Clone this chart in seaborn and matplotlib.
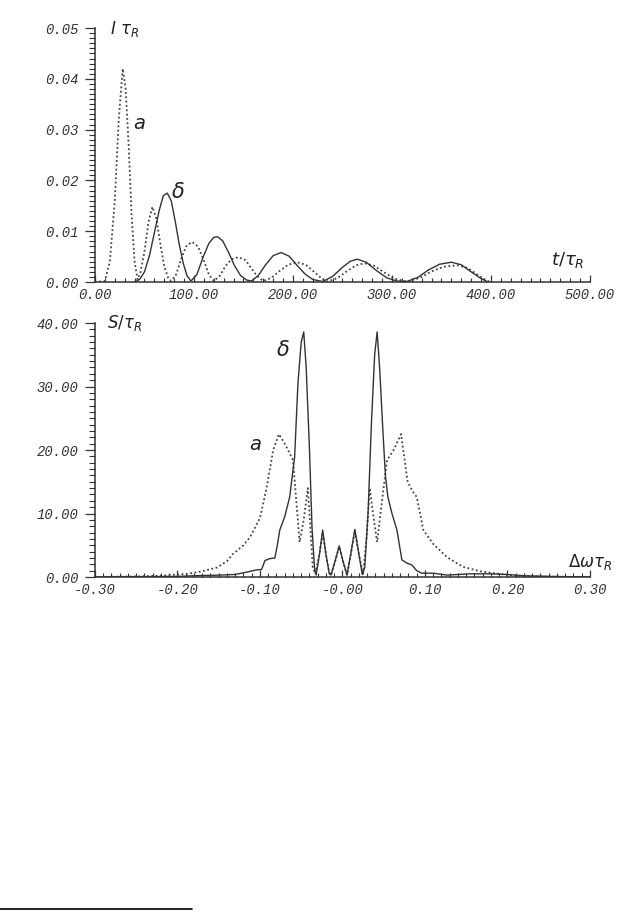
import numpy as np
import pandas as pd
import seaborn as sns
import matplotlib.pyplot as plt
from matplotlib.lines import Line2D
from matplotlib.ticker import MultipleLocator, FixedLocator

# top panel: intensity vs time
a_t = [0, 10, 15, 20, 24, 28, 31, 34, 37, 40, 43,
       46, 50, 54, 58, 62, 66, 70, 74, 77,
       82, 87, 92, 98, 104, 110, 115, 120,
       126, 132, 138, 145, 152, 158, 164, 170,
       178, 186, 195, 204, 213, 222, 229, 235,
       245, 255, 264, 272, 282, 292, 302, 315,
       328, 340, 352, 366, 376, 386, 393, 398]
a_I = [0, 0.0002, 0.004, 0.016, 0.032, 0.042, 0.038, 0.027, 0.013, 0.004, 0.0005,
       0.002, 0.006, 0.0118, 0.0148, 0.0125, 0.0075, 0.003, 0.0008, 0.0002,
       0.0015, 0.0045, 0.007, 0.0079, 0.007, 0.0042, 0.0015, 0.0002,
       0.0012, 0.0032, 0.0045, 0.0049, 0.0043, 0.0027, 0.0011, 0.0002,
       0.0008, 0.0021, 0.0034, 0.0039, 0.0034, 0.0019, 0.0007, 0.0001,
       0.0008, 0.0022, 0.0033, 0.0037, 0.0032, 0.0019, 0.0007, 0.0001,
       0.0008, 0.0021, 0.0030, 0.0033, 0.0028, 0.0015, 0.0006, 0.0001]

d_t = [40, 45, 50, 55, 60, 65, 69, 73, 77, 81, 85, 89, 93, 97,
       103, 109, 115, 120, 124, 129, 135, 141, 147, 153, 158,
       165, 172, 180, 188, 196, 204, 212, 220, 230,
       240, 250, 258, 265, 274, 284, 295, 305, 315,
       326, 337, 348, 360, 370, 380, 389, 396]
d_I = [0, 0.0005, 0.002, 0.0052, 0.0097, 0.0142, 0.017, 0.0175, 0.016, 0.012, 0.0075, 0.0038, 0.0012, 0.0002,
       0.0015, 0.0048, 0.0076, 0.0088, 0.0089, 0.0081, 0.0058, 0.0032, 0.0013, 0.0004, 0.0002,
       0.0013, 0.0033, 0.0052, 0.0058, 0.0051, 0.0033, 0.0016, 0.0005, 0.0001,
       0.0011, 0.0029, 0.0041, 0.0045, 0.0039, 0.0023, 0.0008, 0.0002, 0.0001,
       0.0009, 0.0024, 0.0035, 0.0039, 0.0034, 0.0020, 0.0008, 0.0001]

# bottom panel: spectrum vs detuning
sd_w = [-0.30, -0.25, -0.20, -0.18, -0.15, -0.13, -0.115, -0.105, -0.098, -0.094, -0.088, -0.082,
        -0.079, -0.076, -0.070, -0.064, -0.058, -0.054, -0.050, -0.047, -0.044, -0.040, -0.037,
        -0.034, -0.032, -0.028, -0.024, -0.020, -0.016, -0.014, -0.009, -0.004, 0.001, 0.0055,
        0.010, 0.015, 0.020, 0.024, 0.027, 0.031, 0.035, 0.039, 0.042, 0.045, 0.049, 0.052,
        0.055, 0.060, 0.066, 0.072, 0.078, 0.084, 0.090, 0.096, 0.11, 0.127, 0.14, 0.155,
        0.18, 0.20, 0.22, 0.25, 0.30]
sd_S = [0.0, 0.05, 0.1, 0.2, 0.3, 0.4, 0.8, 1.1, 1.2, 2.6, 2.9, 3.0,
        5.0, 7.4, 9.5, 12.6, 18.9, 30.5, 37.0, 38.6, 33.0, 20.0, 8.0,
        1.5, 0.3, 3.5, 7.4, 3.5, 0.6, 0.3, 2.5, 4.9, 2.3, 0.3,
        3.6, 7.5, 3.5, 0.4, 1.5, 10.0, 24.0, 35.0, 38.6, 33.0, 23.0, 16.0,
        12.6, 10.0, 7.4, 2.7, 2.2, 1.9, 1.0, 0.6, 0.6, 0.3, 0.4, 0.5,
        0.5, 0.4, 0.2, 0.1, 0.0]

sa_w = [-0.30, -0.25, -0.22, -0.20, -0.188, -0.17, -0.152, -0.14, -0.133, -0.12, -0.112, -0.10,
        -0.092, -0.084, -0.077, -0.070, -0.064, -0.060, -0.056, -0.052, -0.047, -0.042, -0.039,
        -0.036, -0.033, -0.028, -0.024, -0.020, -0.016, -0.014, -0.009, -0.004, 0.001, 0.0055,
        0.010, 0.015, 0.020, 0.025, 0.029, 0.033, 0.037, 0.042, 0.047, 0.054, 0.062, 0.071,
        0.079, 0.085, 0.090, 0.098, 0.11, 0.127, 0.146, 0.167, 0.195, 0.21, 0.25, 0.30]
sa_S = [0.0, 0.1, 0.2, 0.4, 0.5, 0.9, 1.5, 2.5, 3.6, 5.0, 6.3, 9.3,
        14.0, 20.0, 22.5, 21.0, 19.5, 18.4, 12.0, 5.5, 9.0, 14.0, 8.0,
        1.5, 0.5, 3.5, 7.0, 3.5, 0.6, 0.3, 2.4, 4.8, 2.3, 0.3,
        3.5, 7.3, 3.5, 0.5, 6.0, 14.0, 10.0, 5.5, 11.0, 18.4, 20.0, 22.5,
        15.0, 13.5, 12.6, 7.4, 5.2, 3.1, 1.6, 0.9, 0.4, 0.2, 0.05, 0.0]

top_xticks = [0, 100, 200, 300, 400, 500]
top_xlabels = ["0.00", "100.00", "200.00", "300.00", "400.00", "500.00"]
top_yticks = [0, 0.01, 0.02, 0.03, 0.04, 0.05]
top_ylabels = ["0.00", "0.01", "0.02", "0.03", "0.04", "0.05"]
bot_xticks = [-0.3, -0.2, -0.1, 0.0, 0.1, 0.2, 0.3]
bot_xlabels = ["-0.30", "-0.20", "-0.10", "-0.00", "0.10", "0.20", "0.30"]
bot_yticks = [0, 10, 20, 30, 40]
bot_ylabels = ["0.00", "10.00", "20.00", "30.00", "40.00"]

sns.set_style("ticks")
plt.rcParams['font.family'] = ['DejaVu Sans']

fig = plt.figure(figsize=(6.41, 9.13), dpi=100)
ax1 = fig.add_axes([0.1482, 0.6911, 0.7722, 0.2782])
ax2 = fig.add_axes([0.1482, 0.3680, 0.7722, 0.2782])

dot = (0, (1, 1.4))
sns.lineplot(x=a_t, y=a_I, ax=ax1, color='#444444', lw=1.3, linestyle=dot, sort=False)
sns.lineplot(x=d_t, y=d_I, ax=ax1, color='#333333', lw=1.0, sort=False)
sns.lineplot(x=sa_w, y=sa_S, ax=ax2, color='#444444', lw=1.3, linestyle=dot, sort=False)
sns.lineplot(x=sd_w, y=sd_S, ax=ax2, color='#333333', lw=1.0, sort=False)

tick_font = dict(fontsize=10, fontstyle='italic', color='#333333', family='Liberation Mono')

def style_axes(ax, xlim, ylim, xt, xl, yt, yl, xminor, yminor):
    ax.set_xlim(*xlim)
    ax.set_ylim(*ylim)
    ax.xaxis.set_major_locator(FixedLocator(xt))
    ax.yaxis.set_major_locator(FixedLocator(yt))
    ax.set_xticklabels(xl, **tick_font)
    ax.set_yticklabels(yl, **tick_font)
    ax.xaxis.set_minor_locator(MultipleLocator(xminor))
    ax.yaxis.set_minor_locator(MultipleLocator(yminor))
    ax.tick_params(axis='x', which='major', direction='in', length=5, width=0.9, pad=4, colors='#333333')
    ax.tick_params(axis='x', which='minor', direction='in', length=3, width=0.8, colors='#333333')
    ax.tick_params(axis='y', which='major', direction='out', length=7, width=0.9, pad=5, colors='#333333')
    ax.tick_params(axis='y', which='minor', direction='out', length=4, width=0.8, colors='#333333')
    sns.despine(ax=ax)
    for s in ('left', 'bottom'):
        ax.spines[s].set_linewidth(1.1)
        ax.spines[s].set_color('#333333')
    ax.set_xlabel("")
    ax.set_ylabel("")

style_axes(ax1, (0, 500), (0, 0.05), top_xticks, top_xlabels, top_yticks, top_ylabels, 10, 0.001)
style_axes(ax2, (-0.3, 0.3), (0, 40), bot_xticks, bot_xlabels, bot_yticks, bot_ylabels, 0.01, 1.0)

hand = dict(color='#222222', fontstyle='italic')
ax1.text(0.03, 0.995, r"I $\tau_R$", transform=ax1.transAxes, fontsize=12, va='center', ha='left', **hand)
ax1.text(45, 0.0313, "a", fontsize=14, va='center', ha='center', **hand)
ax1.text(84, 0.0178, r"$\delta$", fontsize=15, va='center', ha='center', color='#222222')
ax1.text(0.956, 0.085, r"$t/\tau_R$", transform=ax1.transAxes, fontsize=13, va='center', ha='center', color='#222222')

ax2.text(0.025, 1.0, r"$S/\tau_R$", transform=ax2.transAxes, fontsize=12, va='center', ha='left', color='#222222')
ax2.text(-0.072, 35.7, r"$\delta$", fontsize=15, va='center', ha='center', color='#222222')
ax2.text(-0.106, 20.8, "a", fontsize=14, va='center', ha='center', **hand)
ax2.text(1.0, 0.06, r"$\Delta\omega\tau_R$", transform=ax2.transAxes, fontsize=12, va='center', ha='center', color='#222222')

# footnote rule at the bottom of the page
fig.add_artist(Line2D([0.0, 0.30], [0.004, 0.004], transform=fig.transFigure, color='black', lw=1.2))

fig.savefig("out.png", dpi=100, facecolor='white')
